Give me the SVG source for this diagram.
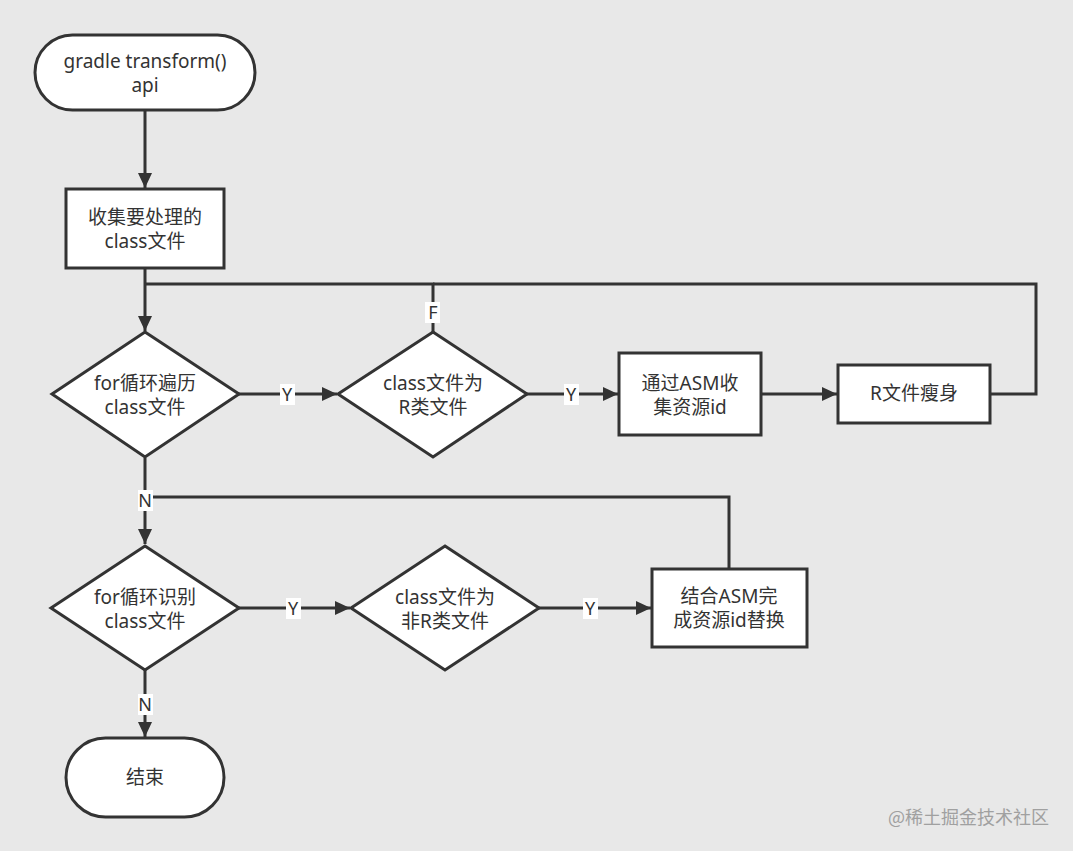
<svg xmlns="http://www.w3.org/2000/svg" width="1073" height="851" viewBox="0 0 1073 851">
<defs>
<style>
.bg{fill:#e8e8e8}
.node{fill:#ffffff;stroke:#333333;stroke-width:3}
.t{font-family:"Noto Sans","Noto Sans CJK SC",sans-serif;font-size:19px;fill:#333333;text-anchor:middle}
.edge{fill:none;stroke:#333333;stroke-width:3}
.lblbg{fill:#ffffff}
.lbl{font-family:"Noto Sans","Noto Sans CJK SC",sans-serif;font-size:18px;fill:#333333;text-anchor:middle}
.wm{font-family:"Noto Sans CJK SC",sans-serif;font-size:18px;fill:#a0a0a0}
</style>
<marker id="arr" markerUnits="userSpaceOnUse" markerWidth="16" markerHeight="14" refX="15" refY="7" orient="auto">
<path d="M0,0 L15,7 L0,14 Z" fill="#333333"/>
</marker>
</defs>
<rect class="bg" x="0" y="0" width="1073" height="851"/>

<g id="connectors">
<path class="edge" d="M145,110 V188" marker-end="url(#arr)"/>
<path class="edge" d="M145,268 V331" marker-end="url(#arr)"/>
<path class="edge" d="M433,332 V284 H145"/>
<path class="edge" d="M990,394 H1036 V284 H433"/>
<path class="edge" d="M239,394 H337" marker-end="url(#arr)"/>
<path class="edge" d="M527,394 H618" marker-end="url(#arr)"/>
<path class="edge" d="M761,394 H837" marker-end="url(#arr)"/>
<path class="edge" d="M145,458 V544" marker-end="url(#arr)"/>
<path class="edge" d="M729,568 V497 H145"/>
<path class="edge" d="M239,608 H350" marker-end="url(#arr)"/>
<path class="edge" d="M539,608 H651" marker-end="url(#arr)"/>
<path class="edge" d="M145,670 V737" marker-end="url(#arr)"/>
<g id="edge-labels">
<rect class="lblbg" x="425" y="302" width="15" height="21"/><text class="lbl" x="433" y="319">F</text>
<rect class="lblbg" x="280" y="384" width="15" height="21"/><text class="lbl" x="287" y="401">Y</text>
<rect class="lblbg" x="564" y="384" width="15" height="21"/><text class="lbl" x="571" y="401">Y</text>
<rect class="lblbg" x="138" y="490" width="15" height="21"/><text class="lbl" x="145" y="507">N</text>
<rect class="lblbg" x="286" y="598" width="15" height="21"/><text class="lbl" x="293" y="615">Y</text>
<rect class="lblbg" x="583" y="598" width="15" height="21"/><text class="lbl" x="590" y="615">Y</text>
<rect class="lblbg" x="138" y="694" width="15" height="21"/><text class="lbl" x="145" y="711">N</text>
</g>
</g>

<g id="start">
<rect class="node" x="35" y="35" width="220" height="75" rx="37.5"/>
<text class="t" x="145" y="68">gradle transform()</text>
<text class="t" x="145" y="92">api</text>
</g>
<g id="collect">
<rect class="node" x="66" y="189" width="158" height="79"/>
<text class="t" x="145" y="224">收集要处理的</text>
<text class="t" x="145" y="248">class文件</text>
</g>
<g id="loop1">
<polygon class="node" points="145,332 239,394 145,457 52,394"/>
<text class="t" x="145" y="390">for循环遍历</text>
<text class="t" x="145" y="414">class文件</text>
</g>
<g id="isR">
<polygon class="node" points="433,332 527,394 433,457 338,394"/>
<text class="t" x="433" y="390">class文件为</text>
<text class="t" x="433" y="414">R类文件</text>
</g>
<g id="collectId">
<rect class="node" x="619" y="353" width="142" height="82"/>
<text class="t" x="690" y="390">通过ASM收</text>
<text class="t" x="690" y="414">集资源id</text>
</g>
<g id="slim">
<rect class="node" x="838" y="365" width="152" height="58"/>
<text class="t" x="914" y="400">R文件瘦身</text>
</g>
<g id="loop2">
<polygon class="node" points="145,546 239,608 145,670 51,608"/>
<text class="t" x="145" y="604">for循环识别</text>
<text class="t" x="145" y="628">class文件</text>
</g>
<g id="notR">
<polygon class="node" points="445,546 539,608 445,670 351,608"/>
<text class="t" x="445" y="604">class文件为</text>
<text class="t" x="445" y="628">非R类文件</text>
</g>
<g id="replace">
<rect class="node" x="652" y="569" width="155" height="78"/>
<text class="t" x="729" y="603">结合ASM完</text>
<text class="t" x="729" y="627">成资源id替换</text>
</g>
<g id="end">
<rect class="node" x="66" y="738" width="158" height="79" rx="39.5"/>
<text class="t" x="145" y="784">结束</text>
</g>
<text class="wm" x="888" y="824">@稀土掘金技术社区</text>
</svg>
